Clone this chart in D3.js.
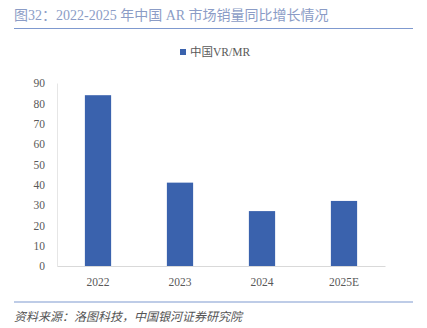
<!DOCTYPE html>
<html><head><meta charset="utf-8">
<script src="https://cdn.jsdelivr.net/npm/d3@7"></script>
<style>body{margin:0;background:#fff}</style>
</head><body>
<svg id="c" width="427" height="328"></svg>
<script>
const categories = ["2022","2023","2024","2025E"];
const values = [84, 41, 27, 32];
const yTicks = [0,10,20,30,40,50,60,70,80,90];
const seriesName = "中国VR/MR";
const title = "图32：2022-2025 年中国 AR 市场销量同比增长情况";
const source = "资料来源：洛图科技，中国银河证券研究院";

const svg = d3.select("#c");
const font = "'Liberation Serif','Noto Sans CJK SC',serif";
const x = d3.scaleBand().domain(categories).range([57, 385]).paddingInner(0.68).paddingOuter(0.34);
const y = d3.scaleLinear().domain([0, 90]).range([266, 83]);

svg.append("text").attr("x", 14).attr("y", 20).attr("font-family", font).attr("font-size", 14)
  .attr("fill", "#8b9cc6").text(title);
svg.append("line").attr("x1", 14).attr("x2", 413).attr("y1", 28.5).attr("y2", 28.5)
  .attr("stroke", "#7f99cf").attr("stroke-width", 1.2);

svg.append("rect").attr("x", 180).attr("y", 49).attr("width", 6).attr("height", 6).attr("fill", "#3a62ad");
svg.append("text").attr("x", 190).attr("y", 56).attr("font-family", font).attr("font-size", 11.5)
  .attr("fill", "#595959").text(seriesName);

const ya = svg.append("g").attr("transform", "translate(57,0)")
  .call(d3.axisLeft(y).tickValues(yTicks).tickSize(0).tickPadding(12));
ya.select(".domain").attr("stroke", "#e6e6e6");
ya.selectAll("text").attr("font-family", font).attr("font-size", 11.5).attr("fill", "#595959");

const xa = svg.append("g").attr("transform", "translate(0,266)")
  .call(d3.axisBottom(x).tickSize(0).tickPadding(12));
xa.select(".domain").attr("stroke", "#d9d9d9");
xa.selectAll("text").attr("font-family", font).attr("font-size", 11.5).attr("fill", "#595959");

svg.append("g").selectAll("rect").data(values).join("rect")
  .attr("x", (d, i) => x(categories[i])).attr("width", x.bandwidth())
  .attr("y", d => y(d)).attr("height", d => y(0) - y(d)).attr("fill", "#3a62ad");

svg.append("line").attr("x1", 14).attr("x2", 413).attr("y1", 302).attr("y2", 302)
  .attr("stroke", "#7f99cf").attr("stroke-width", 1.2);
svg.append("text").attr("x", 14).attr("y", 321).attr("font-family", font).attr("font-size", 12)
  .attr("font-style", "italic").attr("fill", "#555").text(source);
</script>
</body></html>
